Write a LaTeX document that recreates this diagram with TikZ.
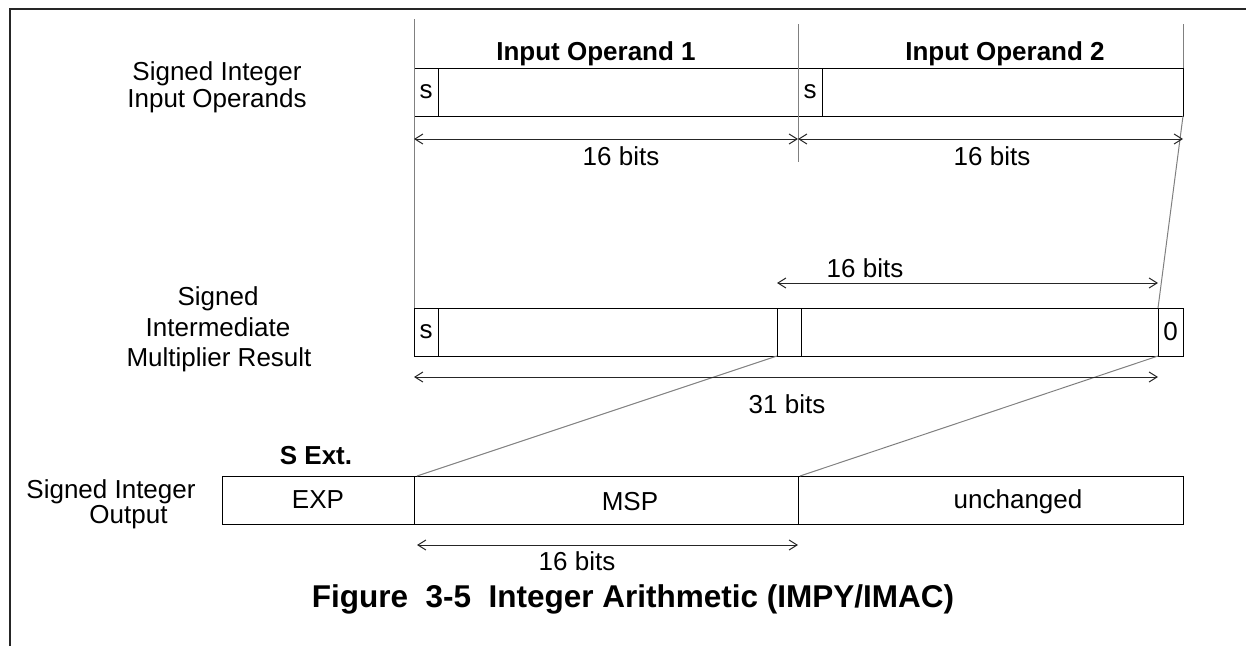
\documentclass[tikz,border=0pt]{standalone}
\usepackage{fontspec}
\setmainfont{Liberation Sans}
\usetikzlibrary{arrows.meta}
\begin{document}
\begin{tikzpicture}[x=1pt,y=-1pt,
  every node/.style={inner sep=0pt, outer sep=0pt},
  cell/.style={draw=black, line width=1pt, anchor=north west, minimum height=48pt, font=\fontsize{26}{30}\selectfont},
  txt/.style={font=\fontsize{26}{30}\selectfont, anchor=base},
  btxt/.style={font=\fontsize{26}{30}\selectfont\bfseries, anchor=base},
  guide/.style={draw=black!50, line width=1pt},
  dim/.style={line width=1pt, draw=black!85, {Straight Barb[length=8pt,width=10pt]}-{Straight Barb[length=8pt,width=10pt]}}]

\useasboundingbox (0,0) rectangle (1246,646);
\draw[line width=2.6pt, black!85] (10,646) -- (10,9) -- (1246,9);

% top row
\node[cell, minimum width=24pt]  (a1s) at (414,68) {s};
\node[cell, minimum width=360pt] (a1)  at (438,68) {};
\node[cell, minimum width=24pt]  (a2s) at (798,68) {s};
\node[cell, minimum width=361pt] (a2)  at (822,68) {};

% middle row
\node[cell, minimum width=24pt]  (ms) at (414,308) {s};
\node[cell, minimum width=339pt] (m1) at (438,308) {};
\node[cell, minimum width=24pt]  (mg) at (777,308) {};
\node[cell, minimum width=357pt] (m2) at (801,308) {};
\node[cell, minimum width=25pt]  (mz) at (1158,308) {0};

% bottom row
\node[cell, minimum width=192pt] (exp)  at (222,476) {EXP};
\node[cell, minimum width=384pt] (msp)  at (414,476) {};
\node[cell, minimum width=385pt] (unch) at (798,476) {};
\node[txt] (msplbl) at (630,510) {MSP};
\node[txt] (unchlbl) at (1018,508) {unchanged};

% guide lines
\coordinate (g1) at (414,19);
\coordinate (g2) at (798,24);
\coordinate (g2b) at (798,162);
\coordinate (g3) at (1183,24);
\draw[guide] (g1) -- (ms.north west);
\draw[guide] (g2) -- (g2b);
\draw[guide] (g3) -- (a2.north east);
\draw[guide] (a2.south east) -- (mz.north west);
\draw[guide] (mg.south west) -- ([xshift=3pt]msp.north west);
\draw[guide] (mz.south west) -- ([xshift=2pt]unch.north west);

% dimension arrows
\draw[dim] ([yshift=-23pt]a1s.south west) -- ([yshift=-23pt]a1.south east);
\draw[dim] ([yshift=-23pt]a2s.south west) -- ([yshift=-23pt]a2.south east);
\draw[dim] ([yshift=25pt]mg.north west) -- ([yshift=25pt]mz.north west);
\draw[dim] ([yshift=-21pt]ms.south west) -- ([yshift=-21pt]mz.south west);
\draw[dim] ([xshift=3pt,yshift=-21pt]msp.south west) -- ([yshift=-21pt]msp.south east);

% labels
\node[btxt] (op1) at (596,60) {Input Operand 1};
\node[btxt] (op2) at (1005,60) {Input Operand 2};
\node[txt] (b1) at (621,165.5) {16 bits};
\node[txt] (b2) at (992,165.5) {16 bits};
\node[txt] (b3) at (865,277.5) {16 bits};
\node[txt] (b4) at (787,413.5) {31 bits};
\node[txt] (b5) at (577,570.5) {16 bits};
\node[btxt] (sext) at (316,464) {S Ext.};

\node[txt] (l1a) at (217,80.5) {Signed Integer};
\node[txt] (l1b) at (217,107) {Input Operands};
\node[txt] (l2a) at (218,305) {Signed};
\node[txt] (l2b) at (218,336.5) {Intermediate};
\node[txt] (l2c) at (219,366.5) {Multiplier Result};
\node[txt] (l3a) at (111,498.5) {Signed Integer};
\node[txt] (l3b) at (128.5,523.5) {Output};

\node[font=\fontsize{31.5}{36}\selectfont\bfseries, anchor=base] (cap) at (633,607.5) {Figure\ \ 3-5\ \ Integer Arithmetic (IMPY/IMAC)};
\end{tikzpicture}
\end{document}
